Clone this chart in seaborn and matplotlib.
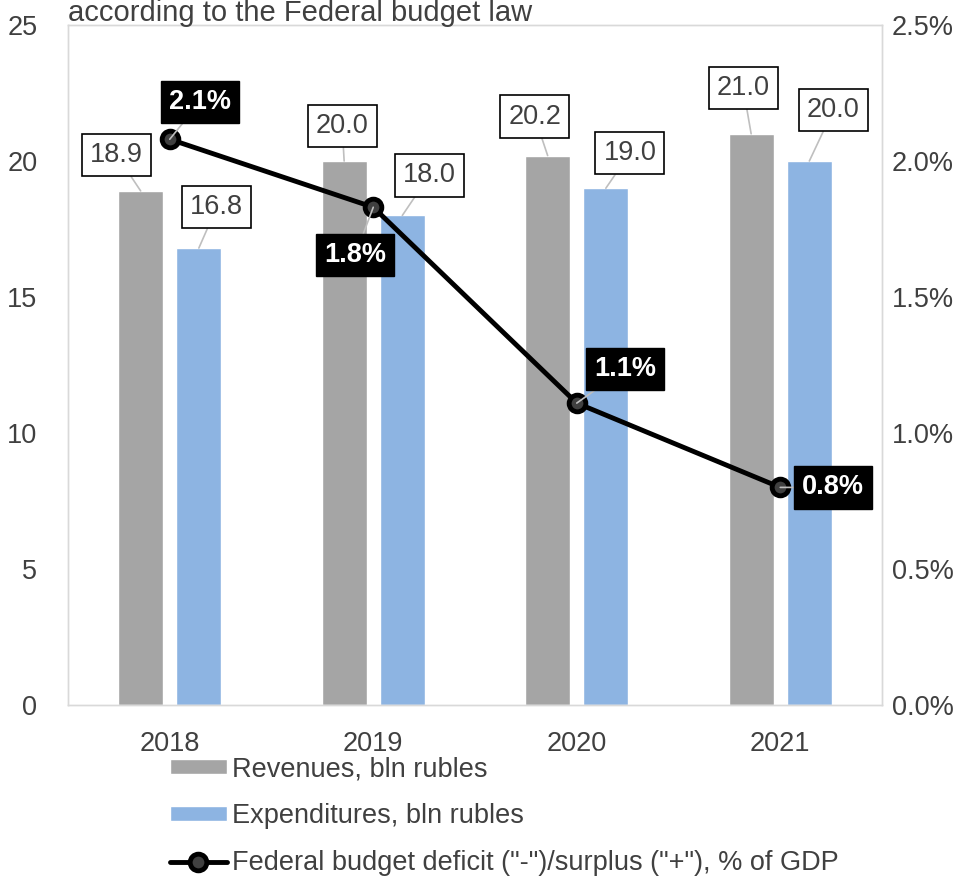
import pandas as pd
import matplotlib.pyplot as plt
import seaborn as sns
from matplotlib.lines import Line2D
from matplotlib.patches import Patch

# data
years = ["2018", "2019", "2020", "2021"]
revenues = [18.9, 20.0, 20.2, 21.0]
expenditures = [16.8, 18.0, 19.0, 20.0]
balance_pct = [2.08, 1.83, 1.11, 0.80]
balance_labels = ["2.1%", "1.8%", "1.1%", "0.8%"]

rev_name = "Revenues, bln rubles"
exp_name = "Expenditures, bln rubles"
line_name = 'Federal budget deficit ("-")/surplus ("+"), % of GDP'
title = "according to the Federal budget law"

GRAY = "#A5A5A5"
BLUE = "#8DB4E2"
TEXT = "#404040"
FS = 19.5

sns.set_style("white")
plt.rcParams["font.family"] = ["Liberation Sans", "DejaVu Sans"]

bars = pd.DataFrame({
    "year": years * 2,
    "value": revenues + expenditures,
    "series": [rev_name] * len(years) + [exp_name] * len(years),
})

fig = plt.figure(figsize=(9.65, 8.8), dpi=100)
ax = fig.add_axes([68 / 965, 1 - 705 / 880, (882 - 68) / 965, 680 / 880])
sns.barplot(data=bars, x="year", y="value", hue="series", palette=[GRAY, BLUE],
            width=0.572, gap=0.23, saturation=1, legend=False, ax=ax)
ax.set_xlim(-0.5, 3.5)
ax.set_ylim(0, 25)
ax.set_yticks(range(0, 26, 5))
ax.set_xlabel("")
ax.set_ylabel("")

ax2 = ax.twinx()
line_style = dict(color="black", lw=3.5, marker="o", ms=12, mfc=TEXT, mec="black", mew=3.5)
sns.lineplot(x=list(range(len(years))), y=balance_pct, ax=ax2, **line_style)
ax2.set_ylim(0, 2.5)
ax2.set_yticks([0, 0.5, 1.0, 1.5, 2.0, 2.5])
ax2.set_yticklabels([f"{v:.1f}%" for v in ax2.get_yticks()])
ax2.set_ylabel("")

for a in (ax, ax2):
    for s in a.spines.values():
        s.set_color("#D9D9D9")
        s.set_linewidth(1)
ax.tick_params(axis="y", length=0, pad=22, labelsize=FS, labelcolor=TEXT)
ax.tick_params(axis="x", length=0, pad=19, labelsize=FS, labelcolor=TEXT)
ax2.tick_params(axis="y", length=0, pad=7, labelsize=FS, labelcolor=TEXT)

leader = dict(arrowstyle="-", color="#BFBFBF", lw=1.2, shrinkA=0, shrinkB=0)

# bar value labels (offsets in pixels from the bar top)
rev_off = [(-24, 36), (-2, 35), (-13, 39), (-8, 46)]
exp_off = [(18, 41), (27, 40), (24, 35), (24, 51)]
for cont, offs in zip(ax.containers, [rev_off, exp_off]):
    for p, (dx, dy) in zip(cont.patches, offs):
        x = p.get_x() + p.get_width() / 2
        h = p.get_height()
        ax2.annotate(f"{h:.1f}", xy=(x, h), xycoords=ax.transData,
                     xytext=(dx, dy), textcoords="offset pixels",
                     ha="center", va="center", fontsize=FS, color=TEXT,
                     bbox=dict(boxstyle="square,pad=0.3", fc="white", ec="black", lw=1.2),
                     arrowprops=leader, zorder=5)

# line labels
line_off = [(30, 37), (-18, -48), (48, 34), (53, 0)]
for i, (v, lab, (dx, dy)) in enumerate(zip(balance_pct, balance_labels, line_off)):
    ax2.annotate(lab, xy=(i, v), xytext=(dx, dy), textcoords="offset pixels",
                 ha="center", va="center", fontsize=FS, color="white", fontweight="bold",
                 bbox=dict(boxstyle="square,pad=0.3", fc="black", ec="black"),
                 arrowprops=leader, zorder=5)

fig.text(68 / 965, 1 - 21 / 880, title, fontsize=21, color=TEXT, va="baseline")

handles = [Patch(fc=GRAY), Patch(fc=BLUE), Line2D([], [], **line_style)]
fig.legend(handles, [rev_name, exp_name, line_name], loc="upper left",
           bbox_to_anchor=(170 / 965, 1 - 756 / 880), frameon=False,
           fontsize=FS, labelcolor=TEXT, handlelength=2.1, handleheight=0.5,
           handletextpad=0.2, labelspacing=0.78, borderpad=0, borderaxespad=0)

fig.savefig("out.png", dpi=100)
